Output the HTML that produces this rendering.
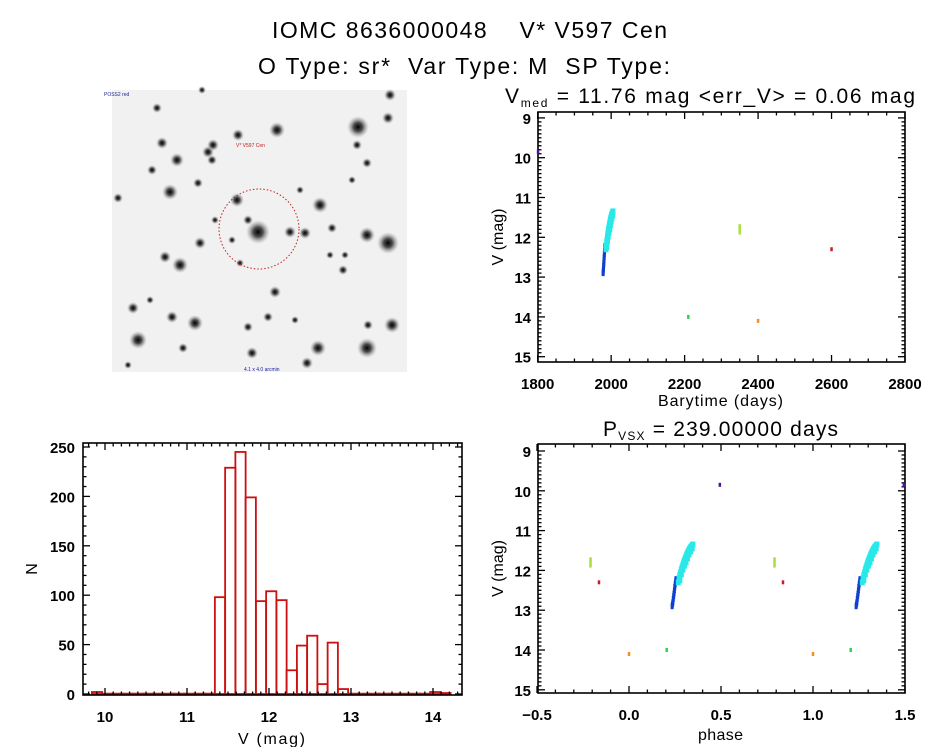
<!DOCTYPE html>
<html><head><meta charset="utf-8">
<style>
html,body{margin:0;padding:0;background:#fff;}
svg{display:block;font-family:"Liberation Sans",sans-serif;}
svg text{white-space:pre;}
.tk{font-size:15px;font-weight:bold;fill:#000;}
.lab{font-size:16px;fill:#000;}
</style></head>
<body>
<svg id="fig" width="944" height="747" viewBox="0 0 944 747">
<text x="272" y="38" font-size="23" textLength="395" lengthAdjust="spacing">IOMC 8636000048    V* V597 Cen</text>
<text x="258" y="74" font-size="23" textLength="412" lengthAdjust="spacing">O Type: sr*  Var Type: M  SP Type:</text>
<g id="img"></g>
<g id="lc"></g>
<g id="ph"></g>
<g id="hist"></g>
</svg>
<script>
// ---- data ----
const blueT = [1978,1978.5,1979,1979.5,1980,1980.5,1981,1981.5,1982,1982.5,1983];
const blueM = [12.9,12.85,12.8,12.72,12.65,12.58,12.5,12.42,12.35,12.28,12.22];
const cyanT = [1986,1987,1988,1989,1990,1991,1992,1993,1994,1995,1996,1997,1998,1999,2000,2001,2002,2003,2004,2005,1988,1990,1992,1994,1996,1998,2000,2002,2004];
const cyanM = [12.3,12.2,12.12,12.05,11.98,11.92,11.86,11.8,11.75,11.7,11.65,11.6,11.56,11.52,11.48,11.45,11.42,11.4,11.37,11.35,12.25,12.1,11.98,11.88,11.8,11.7,11.6,11.52,11.45];
const otherT = [2350,2350,2350,2600,2210,2400,1801];
const otherM = [11.72,11.8,11.88,12.3,14.0,14.1,9.85];
const otherC = ['#a8e040','#a8e040','#a8e040','#c82020','#30d050','#f09020','#5010a0'];
const period = 239.0;
const epoch = 2400;
const histLo = 9.84;
const histW = 0.125;
const histN = [2,0,0,0,0,0,0,0,0,0,0,0,98,229,245,199,94,104,95,24,49,59,10,52,5,0,0,0,0,0,0,0,0,2,1];
const lcXTicks = [1800,2000,2200,2400,2600,2800];
const magTicks = [9,10,11,12,13,14,15];
const phXTicks = [-0.5,0.0,0.5,1.0,1.5];
const phXLabels = ['\u22120.5','0.0','0.5','1.0','1.5'];
const hXTicks = [10,11,12,13,14];
const hYTicks = [0,50,100,150,200,250];

const NS='http://www.w3.org/2000/svg';
function mk(p,tag,at){const e=document.createElementNS(NS,tag);for(const k in at)e.setAttribute(k,at[k]);p.appendChild(e);return e;}
function txt(p,x,y,s,cls,anchor){const t=mk(p,'text',{x:x,y:y,'class':cls,'text-anchor':anchor||'middle'});t.textContent=s;return t;}

// ---- sky image ----
const img=document.getElementById('img');
const defs=mk(img,'defs',{});
const rg=mk(defs,'radialGradient',{id:'star'});
mk(rg,'stop',{offset:'0','stop-color':'#000','stop-opacity':'1'});
mk(rg,'stop',{offset:'0.4','stop-color':'#222','stop-opacity':'0.8'});
mk(rg,'stop',{offset:'1','stop-color':'#999','stop-opacity':'0'});
mk(img,'rect',{x:112,y:90,width:295,height:282,fill:'#f1f1f1'});
const stars=[[358,127,11],[388,243,11],[258,232,12],[277,130,8],[170,192,8],[180,265,8],[138,340,9],[367,348,10],[195,323,8],[320,205,8],[367,235,8],[392,325,8],[318,348,8],[252,353,6],[172,317,6],[165,257,6],[133,308,6],[237,200,7],[290,232,6],[305,233,6],[388,118,6],[390,95,6],[177,160,7],[162,143,6],[208,152,6],[238,135,6],[275,292,6],[200,243,6],[118,198,5],[248,220,5],[332,228,5],[357,145,5],[367,163,5],[152,170,5],[198,183,5],[157,108,5],[268,317,5],[248,327,5],[368,325,5],[307,363,6],[183,348,5],[343,270,5],[213,145,6],[212,160,5],[240,263,4],[352,180,4],[128,365,4],[202,90,4],[300,190,4],[215,220,4],[232,240,4],[295,320,4],[345,255,4],[150,300,4],[330,255,4]];
stars.forEach(s=>{const c=mk(img,'circle',{cx:s[0],cy:s[1],r:s[2],fill:'url(#star)'});

});
mk(img,'circle',{cx:259,cy:229,r:40,fill:'none',stroke:'#c02020','stroke-width':1,'stroke-dasharray':'1.5 2'});
mk(img,'text',{x:236,y:147,'font-size':5,fill:'#c02020'}).textContent='V* V597 Cen';
mk(img,'text',{x:104,y:96,'font-size':5,fill:'#2020a0'}).textContent='POSS2 red';
mk(img,'text',{x:244,y:371,'font-size':5,fill:'#2020a0'}).textContent='4.1 x 4.0 arcmin';

// ---- generic axis ----
function frame(g,x0,x1,y0,y1){mk(g,'rect',{x:x0,y:y0,width:x1-x0,height:y1-y0,fill:'none',stroke:'#000','stroke-width':1.6});}
function magAxis(g,x0,x1,y0,y1,sy){
  for(let m=9;m<=15.01;m+=0.1){const y=sy(m);if(y<y0||y>y1)continue;const maj=Math.abs(m-Math.round(m))<0.01;const L=maj?7:3.5;
    mk(g,'line',{x1:x0,x2:x0+L,y1:y,y2:y,stroke:'#000','stroke-width':1.3});mk(g,'line',{x1:x1,x2:x1-L,y1:y,y2:y,stroke:'#000','stroke-width':1.3});}
  magTicks.forEach(m=>{const t=txt(g,x0-7,sy(m)+6,String(m),'tk','end');
    });
  const yl=txt(g,0,0,'V (mag)','lab');yl.setAttribute('transform',`translate(503,${(y0+y1)/2}) rotate(-90)`);
  
}
function pt(g,x,y,c,w,h){const r=mk(g,'rect',{x:x-w/2,y:y-h/2,width:w,height:h,fill:c});return r;}

// ---- light curve ----
(function(){
const g=document.getElementById('lc');
const x0=538,x1=905,y0=112,y1=362;
const sx=t=>537.7+(t-1800)*0.3673, sy=m=>157.7+(m-10)*39.8;
frame(g,x0,x1,y0,y1);
magAxis(g,x0,x1,y0,y1,sy);
for(let t=1800;t<=2800;t+=50){const x=sx(t);const L=(t%200===0)?7:3.5;
  mk(g,'line',{x1:x,x2:x,y1:y1,y2:y1-L,stroke:'#000','stroke-width':1.3});mk(g,'line',{x1:x,x2:x,y1:y0,y2:y0+L,stroke:'#000','stroke-width':1.3});}
lcXTicks.forEach(t=>{const e=txt(g,sx(t),389,String(t),'tk');});
const xt=mk(g,'text',{x:658,y:406,'class':'lab',textLength:125,lengthAdjust:'spacing'});xt.textContent='Barytime (days)';

const tt=mk(g,'text',{x:505,y:103,'font-size':21,textLength:410,lengthAdjust:'spacing'});
tt.innerHTML='V<tspan font-size="12" dy="4">med</tspan><tspan dy="-4"> = 11.76 mag &lt;err_V&gt; = 0.06 mag</tspan>';

blueT.forEach((t,i)=>{const r=pt(g,sx(t),sy(blueM[i]),'#1040d0',3,6);});
cyanT.forEach((t,i)=>{const r=pt(g,sx(t),sy(cyanM[i]),'#28e8e8',5,6);});
otherT.forEach((t,i)=>{const r=pt(g,sx(t),sy(otherM[i]),otherC[i],2.5,4);});
})();

// ---- phase ----
(function(){
const g=document.getElementById('ph');
const x0=538,x1=905,y0=444,y1=693;
const sx=p=>537+(p+0.5)*184, sy=m=>451+(m-9)*39.8;
frame(g,x0,x1,y0,y1);
magAxis(g,x0,x1,y0,y1,sy);
for(let p=-0.5;p<=1.501;p+=0.1){const x=sx(p);const maj=Math.abs(p*2-Math.round(p*2))<0.01;const L=maj?7:3.5;
  mk(g,'line',{x1:x,x2:x,y1:y1,y2:y1-L,stroke:'#000','stroke-width':1.3});mk(g,'line',{x1:x,x2:x,y1:y0,y2:y0+L,stroke:'#000','stroke-width':1.3});}
phXTicks.forEach((p,i)=>{const e=txt(g,sx(p),720,phXLabels[i],'tk');});
const xt=mk(g,'text',{x:698,y:740,'class':'lab',textLength:45,lengthAdjust:'spacing'});xt.textContent='phase';

const tt=mk(g,'text',{x:603,y:436,'font-size':21,textLength:235,lengthAdjust:'spacing'});
tt.innerHTML='P<tspan font-size="12" dy="4">VSX</tspan><tspan dy="-4"> = 239.00000 days</tspan>';

function ph(t){let p=((t-epoch)/period)%1;if(p<0)p+=1;return p;}
function plot(T,M,col,w,h,name){T.forEach((t,i)=>{const p=ph(t);[p-1,p,p+1].forEach(q=>{if(q<-0.5||q>1.5)return;
  const r=pt(g,sx(q),sy(M[i]),typeof col==='string'?col:col[i],w,h);
  
  });});}
plot(blueT,blueM,'#1040d0',3,6,'phase-point-blue');
plot(cyanT,cyanM,'#28e8e8',5,6,'phase-point-cyan');
plot(otherT,otherM,otherC,2.5,4,'phase-point-other');
})();

// ---- histogram ----
(function(){
const g=document.getElementById('hist');
const x0=83,x1=462,y0=443,y1=695;
const sx=v=>105+(v-10)*82, sy=n=>694-n*0.988;
histN.forEach((n,i)=>{const a=sx(histLo+i*histW),b=sx(histLo+(i+1)*histW);
  const r=mk(g,'rect',{x:a,y:sy(n),width:b-a,height:Math.max(sy(0)-sy(n),0.1),fill:'none',stroke:'#cc1010','stroke-width':n>0?1.8:2.5});
  
  });
frame(g,x0,x1,y0,y1);
for(let v=9.8;v<=14.31;v+=0.1){const x=sx(v);if(x<x0||x>x1)continue;const maj=Math.abs(v-Math.round(v))<0.01;const L=maj?7:3.5;
  mk(g,'line',{x1:x,x2:x,y1:y1,y2:y1-L,stroke:'#000','stroke-width':1.3});mk(g,'line',{x1:x,x2:x,y1:y0,y2:y0+L,stroke:'#000','stroke-width':1.3});}
for(let n=0;n<=250;n+=10){const y=sy(n);const L=(n%50===0)?7:3.5;
  mk(g,'line',{x1:x0,x2:x0+L,y1:y,y2:y,stroke:'#000','stroke-width':1.3});mk(g,'line',{x1:x1,x2:x1-L,y1:y,y2:y,stroke:'#000','stroke-width':1.3});}
hXTicks.forEach(v=>{const e=txt(g,sx(v),722,String(v),'tk');});
hYTicks.forEach(n=>{const e=txt(g,75,sy(n)+6,String(n),'tk','end');});
const xt=mk(g,'text',{x:238,y:744,'class':'lab',textLength:67,lengthAdjust:'spacing'});xt.textContent='V (mag)';

const yt=txt(g,0,0,'N','lab');yt.setAttribute('transform','translate(37,569) rotate(-90)');

})();
</script>
</body></html>
